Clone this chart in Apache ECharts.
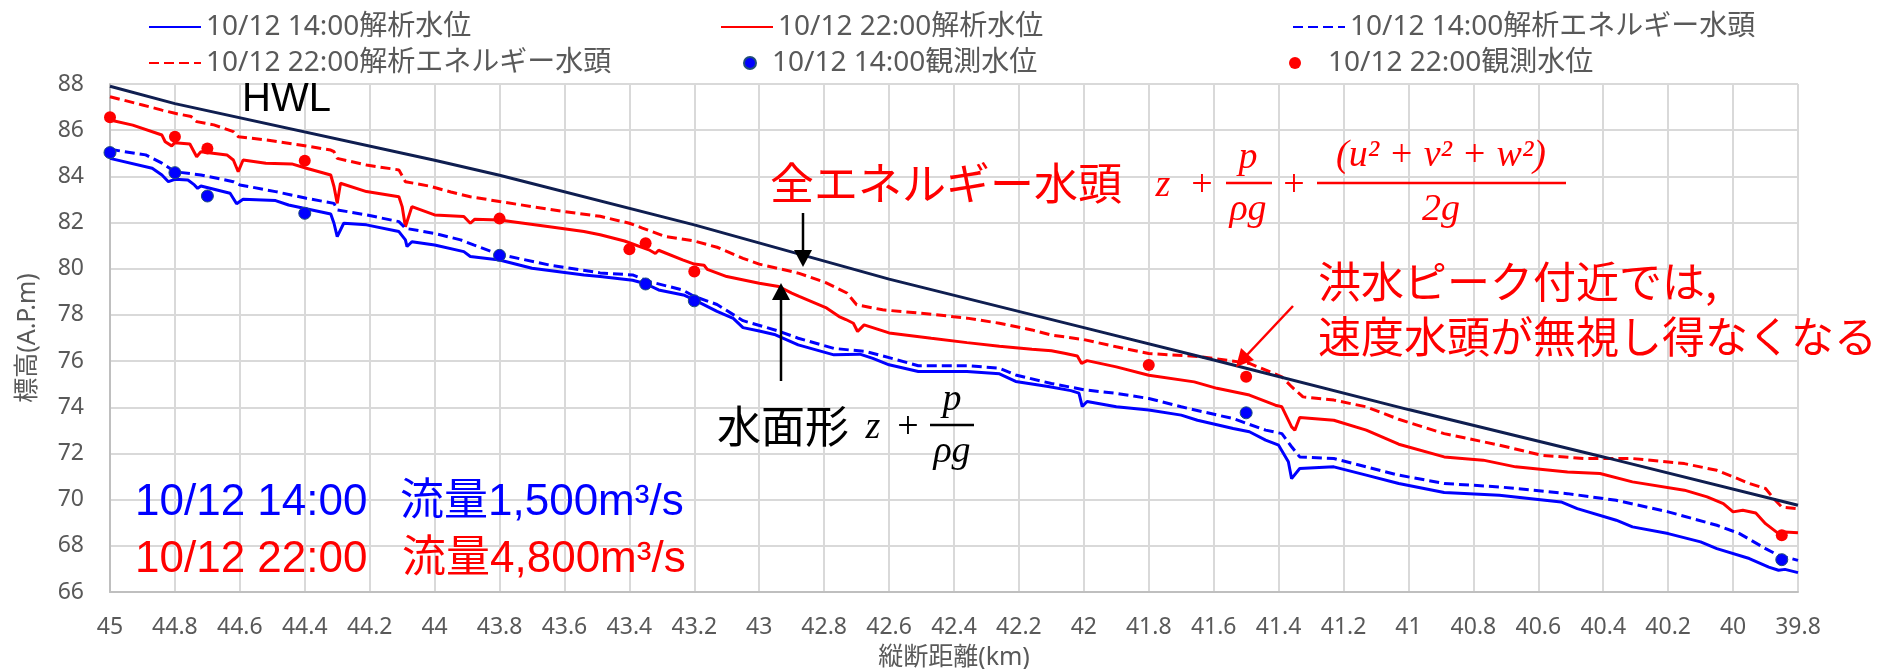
<!DOCTYPE html>
<html><head><meta charset="utf-8">
<script src="https://cdn.jsdelivr.net/npm/echarts@6/dist/echarts.min.js"></script>
<style>html,body{margin:0;padding:0;background:#fff}#c{width:1901px;height:669px}</style>
</head><body><div id="c"></div>
<script>
// ---- data: [縦断距離 km, 標高 m] ----
const hwl = [[45.0,87.9],[44.8,87.15],[44.0,84.7],[43.8,84.05],[43.2,81.9],[42.6,79.55],[42.0,77.45],[41.6,76.05],[41.0,73.9],[40.4,71.85],[39.8,69.76]];

const ws22 = [[45.0,86.44],[44.93,86.22],[44.84,85.79],[44.83,85.5],[44.81,85.32],[44.8,85.46],[44.754,85.4],[44.733,84.85],[44.72,85.07],[44.64,84.93],[44.62,84.71],[44.605,84.2],[44.59,84.71],[44.52,84.57],[44.44,84.54],[44.395,84.35],[44.32,84.06],[44.31,83.56],[44.3,82.83],[44.29,83.7],[44.21,83.34],[44.11,83.12],[44.1,82.69],[44.09,81.82],[44.07,82.69],[44.0,82.33],[43.91,82.26],[43.89,81.97],[43.877,82.14],[43.8,82.11],[43.646,81.82],[43.54,81.61],[43.49,81.47],[43.415,81.2],[43.34,80.82],[43.32,80.66],[43.31,80.8],[43.236,80.38],[43.2,80.2],[43.17,80.15],[43.16,79.97],[43.1,79.66],[43.0,79.37],[42.94,79.23],[42.9,78.94],[42.877,78.8],[42.795,78.32],[42.754,77.93],[42.733,77.8],[42.71,77.64],[42.697,77.28],[42.677,77.57],[42.6,77.22],[42.47,76.99],[42.36,76.8],[42.26,76.64],[42.16,76.51],[42.1,76.45],[42.06,76.34],[42.02,76.22],[42.007,75.9],[41.99,76.02],[41.9,75.75],[41.8,75.39],[41.66,75.1],[41.59,74.82],[41.49,74.53],[41.41,74.09],[41.39,74.02],[41.36,73.15],[41.35,73.01],[41.335,73.56],[41.23,73.44],[41.13,73.01],[41.03,72.4],[40.89,71.85],[40.77,71.71],[40.67,71.42],[40.51,71.2],[40.41,71.13],[40.31,70.77],[40.15,70.41],[40.08,70.12],[40.03,69.83],[40.0,69.47],[39.97,69.54],[39.93,69.42],[39.9,68.96],[39.86,68.53],[39.84,68.6],[39.8,68.57]];

const eh22 = [[45.0,87.45],[44.9,87.09],[44.84,86.87],[44.8,86.73],[44.75,86.59],[44.733,86.37],[44.68,86.23],[44.62,85.94],[44.605,85.72],[44.52,85.58],[44.415,85.36],[44.32,85.14],[44.31,85.07],[44.3,84.78],[44.21,84.49],[44.11,84.28],[44.09,83.77],[44.01,83.56],[43.95,83.32],[43.89,83.12],[43.8,82.91],[43.6,82.47],[43.49,82.27],[43.4,81.97],[43.36,81.76],[43.29,81.4],[43.2,81.2],[43.13,80.93],[43.05,80.45],[43.0,80.2],[42.9,79.88],[42.877,79.8],[42.795,79.4],[42.73,78.95],[42.7,78.44],[42.62,78.22],[42.47,78.03],[42.36,77.86],[42.26,77.64],[42.16,77.35],[42.1,77.13],[42.0,76.93],[41.9,76.62],[41.8,76.33],[41.64,76.19],[41.49,75.9],[41.39,75.32],[41.36,74.89],[41.325,74.45],[41.23,74.31],[41.13,74.02],[41.03,73.48],[40.89,72.86],[40.72,72.36],[40.59,71.92],[40.46,71.78],[40.31,71.78],[40.15,71.56],[40.05,71.27],[40.0,70.99],[39.95,70.7],[39.9,70.48],[39.87,69.97],[39.85,69.68],[39.8,69.61]];

const ws14 = [[45.0,84.78],[44.87,84.35],[44.84,84.06],[44.82,83.77],[44.8,83.87],[44.76,83.84],[44.74,83.63],[44.73,83.48],[44.72,83.58],[44.63,83.27],[44.61,82.81],[44.59,83.01],[44.49,82.95],[44.45,82.76],[44.32,82.37],[44.31,81.97],[44.3,81.39],[44.28,81.97],[44.21,81.9],[44.11,81.61],[44.09,81.25],[44.085,80.96],[44.07,81.17],[44.0,81.03],[43.91,80.74],[43.89,80.53],[43.8,80.38],[43.7,80.02],[43.54,79.73],[43.49,79.66],[43.39,79.5],[43.35,79.35],[43.31,79.08],[43.23,78.85],[43.2,78.65],[43.13,78.15],[43.08,77.85],[43.05,77.45],[43.0,77.3],[42.95,77.14],[42.88,76.7],[42.77,76.27],[42.69,76.3],[42.65,76.12],[42.6,75.84],[42.51,75.55],[42.36,75.55],[42.26,75.45],[42.21,75.12],[42.11,74.9],[42.04,74.72],[42.015,74.61],[42.005,74.03],[41.99,74.25],[41.9,74.02],[41.8,73.88],[41.7,73.66],[41.65,73.44],[41.54,73.08],[41.49,72.94],[41.44,72.58],[41.4,72.36],[41.37,71.64],[41.36,70.91],[41.335,71.35],[41.23,71.42],[41.13,71.06],[41.03,70.7],[40.89,70.31],[40.72,70.19],[40.53,69.9],[40.48,69.61],[40.36,69.11],[40.31,68.82],[40.2,68.53],[40.1,68.17],[40.05,67.88],[39.95,67.45],[39.89,67.08],[39.86,66.94],[39.84,66.98],[39.8,66.84]];

const eh14 = [[45.0,85.17],[44.89,84.93],[44.84,84.57],[44.8,84.2],[44.72,84.06],[44.62,83.77],[44.6,83.63],[44.49,83.34],[44.395,83.05],[44.31,82.83],[44.3,82.55],[44.21,82.33],[44.11,82.04],[44.09,81.75],[44.0,81.53],[43.92,81.25],[43.88,81.03],[43.8,80.62],[43.646,80.16],[43.49,79.82],[43.39,79.73],[43.338,79.44],[43.236,79.08],[43.2,78.8],[43.13,78.45],[43.05,77.75],[42.94,77.3],[42.88,76.99],[42.77,76.55],[42.67,76.41],[42.6,76.15],[42.51,75.8],[42.36,75.8],[42.26,75.69],[42.21,75.4],[42.1,75.03],[42.0,74.76],[41.9,74.6],[41.8,74.38],[41.7,74.02],[41.54,73.51],[41.44,73.01],[41.39,72.86],[41.36,72.29],[41.335,71.85],[41.23,71.78],[41.13,71.42],[41.03,71.06],[40.89,70.7],[40.72,70.55],[40.51,70.26],[40.36,69.97],[40.2,69.47],[40.05,68.89],[39.98,68.53],[39.9,67.88],[39.86,67.59],[39.8,67.37]];

const obs14 = [[45.0,85.03],[44.8,84.16],[44.7,83.15],[44.4,82.4],[43.8,80.58],[43.35,79.34],[43.2,78.61],[41.5,73.76],[39.85,67.4]];
const obs22 = [[45.0,86.56],[44.8,85.72],[44.7,85.21],[44.4,84.68],[43.8,82.17],[43.4,80.84],[43.35,81.1],[43.2,79.88],[41.8,75.83],[41.5,75.32],[39.85,68.46]];

const names = ['10/12 14:00解析水位','10/12 22:00解析水位','10/12 14:00解析エネルギー水頭','10/12 22:00解析エネルギー水頭','10/12 14:00観測水位','10/12 22:00観測水位'];
const yTicks = {min:66, max:88, step:2};
const xRange = {min:39.8, max:45, step:0.2};

// ---- chart ----
const BLUE='#0000FF', RED='#FF0000', NAVY='#0F1E50', GRAY='#595959';
const sansF = "'Noto Sans','Noto Sans CJK JP',sans-serif";
const jpF = "'Noto Sans CJK JP','Noto Sans',sans-serif";
const serifF = "'Liberation Serif','DejaVu Serif',serif";
const latF = "'Liberation Sans','Noto Sans CJK JP',sans-serif";

const chart = echarts.init(document.getElementById('c'), null, {renderer:'canvas'});

function lineSeries(name, data, color, dashed){
  return {name, type:'line', data, symbol:'none', showSymbol:false, smooth:false,
    lineStyle:{color, width:3, type: dashed ? [10,5] : 'solid'}, itemStyle:{color}, z:3};
}
function leg(name, left, top, w, h, extra){
  return Object.assign({data:[name], left, top, padding:0, itemWidth:w, itemHeight:h, itemGap:0,
    textStyle:{color:GRAY, fontSize:28, fontFamily:sansF, lineHeight:30}, selectedMode:false}, extra||{});
}
const noSym = {itemStyle:{opacity:0, borderWidth:0}};

const T1 = 12, T2 = 48;
function txt(x,y,text,size,color,family,align,italic){
  return {type:'text', x, y, z:100, silent:true, style:{text, fill:color,
    font:(italic?'italic ':'')+size+'px '+family, align:align||'left', verticalAlign:'middle',
    textAlign:align||'left', textVerticalAlign:'middle'}};
}
function ln(x1,y1,x2,y2,color,w){return {type:'line', z:100, silent:true, shape:{x1,y1,x2,y2}, style:{stroke:color, lineWidth:w||2}};}
function tri(pts,color){return {type:'polygon', z:100, silent:true, shape:{points:pts}, style:{fill:color}};}

const graphics = [
  txt(242,100,'HWL',40,'#000',latF),
  txt(770,183,'全エネルギー水頭',44,RED,jpF),
  txt(1163,186,'z',38,RED,serifF,'center',true),
  txt(1202,186,'+',38,RED,serifF,'center'),
  txt(1248,158,'p',38,RED,serifF,'center',true),
  ln(1226,183,1272,183,RED,2.5),
  txt(1248,210,'ρg',38,RED,serifF,'center',true),
  txt(1294,186,'+',38,RED,serifF,'center'),
  txt(1441,156,'(u² + v² + w²)',38,RED,serifF,'center',true),
  ln(1317,183,1566,183,RED,2.5),
  txt(1441,210,'2g',38,RED,serifF,'center',true),
  // arrows
  ln(803,213,803,252,'#000',2.5),
  tri([[794,250],[812,250],[803,267]],'#000'),
  ln(781,381,781,298,'#000',2.5),
  tri([[772,300],[790,300],[781,283]],'#000'),
  // 水面形
  txt(717,426,'水面形',44,'#000',jpF),
  txt(873,428,'z',38,'#000',serifF,'center',true),
  txt(908,428,'+',38,'#000',serifF,'center'),
  txt(952,400,'p',38,'#000',serifF,'center',true),
  ln(930,425,974,425,'#000',2.5),
  txt(952,452,'ρg',38,'#000',serifF,'center',true),
  // 洪水ピーク
  txt(1318,282,'洪水ピーク付近では,',43,RED,jpF),
  txt(1318,337,'速度水頭が無視し得なくなる',43,RED,jpF),
  ln(1293,306,1246,356,RED,2.5),
  tri([[1254,360],[1241,348],[1236,367]],RED),
  // bottom-left
  txt(135,503,'10/12 14:00',44,BLUE,latF),
  txt(400,503,'流量1,500m³/s',44,BLUE,latF),
  txt(135,560,'10/12 22:00',44,RED,latF),
  txt(402,560,'流量4,800m³/s',44,RED,latF)
];

const option = {
  animation:false,
  backgroundColor:'#fff',
  grid:{left:110, right:103, top:84, bottom:77, containLabel:false, outerBoundsMode:'none'},
  legend:[
    leg(names[0],148,T1,52,14,noSym),
    leg(names[1],720,T1,52,14,noSym),
    leg(names[2],1292,T1,52,14,noSym),
    leg(names[3],148,T2,52,14,noSym),
    leg(names[4],743,T2,34,12),
    leg(names[5],1289,T2,56,12)
  ],
  xAxis:{type:'value', inverse:true, min:xRange.min, max:xRange.max, interval:xRange.step,
    name:'縦断距離(km)', nameLocation:'middle', nameGap:53,
    nameTextStyle:{color:GRAY, fontSize:25, fontFamily:sansF},
    axisLine:{show:true, onZero:false, lineStyle:{color:'#BFBFBF', width:2}},
    axisTick:{show:false},
    axisLabel:{color:GRAY, fontSize:23, fontFamily:sansF, margin:24, showMinLabel:true, showMaxLabel:true,
      formatter:v=>String(parseFloat(Number(v).toFixed(1)))},
    splitLine:{show:true, lineStyle:{color:'#D9D9D9', width:2}}},
  yAxis:{type:'value', min:yTicks.min, max:yTicks.max, interval:yTicks.step,
    name:'標高(A.P.m)', nameLocation:'middle', nameGap:70, nameRotate:90,
    nameTextStyle:{color:GRAY, fontSize:25, fontFamily:sansF},
    axisLine:{show:true, lineStyle:{color:'#BFBFBF', width:2}},
    axisTick:{show:false},
    axisLabel:{color:GRAY, fontSize:23, fontFamily:sansF, margin:26},
    splitLine:{show:true, lineStyle:{color:'#D9D9D9', width:2}}},
  series:[
    {name:'HWL', type:'line', data:hwl, symbol:'none', lineStyle:{color:NAVY, width:3}, itemStyle:{color:NAVY}, z:4},
    lineSeries(names[0], ws14, BLUE, false),
    lineSeries(names[1], ws22, RED, false),
    lineSeries(names[2], eh14, BLUE, true),
    lineSeries(names[3], eh22, RED, true),
    {name:names[4], type:'scatter', data:obs14, symbol:'circle', symbolSize:12,
      itemStyle:{color:BLUE, borderColor:'#1F4E79', borderWidth:1, opacity:1}, z:5},
    {name:names[5], type:'scatter', data:obs22, symbol:'circle', symbolSize:12,
      itemStyle:{color:RED, opacity:1}, z:5}
  ],
  graphic: graphics
};
chart.setOption(option);
</script>
</body></html>
